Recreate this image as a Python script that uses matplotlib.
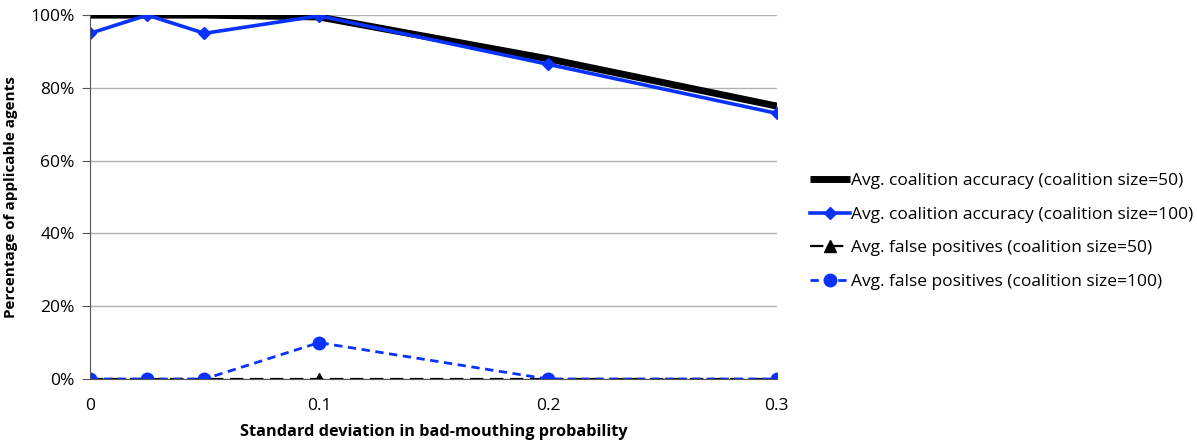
import numpy as np
import matplotlib.pyplot as plt
from matplotlib.ticker import FuncFormatter

plt.rcParams['font.family'] = ['Open Sans', 'DejaVu Sans']

std_dev = [0, 0.025, 0.05, 0.1, 0.2, 0.3]
acc_50 = [100, 100, 100, 99.5, 88, 75]
acc_100 = [95, 100, 95, 99.8, 86.5, 73]
fp_50 = [0, 0, 0, 0, 0, 0]
fp_100 = [0, 0, 0, 10, 0, 0]

fig = plt.figure(figsize=(11.97, 4.45), dpi=100)
ax = fig.add_axes([0.0752, 0.1483, 0.5738, 0.8177])

ax.plot(std_dev, acc_50, color='black', lw=5, solid_capstyle='butt',
        label='Avg. coalition accuracy (coalition size=50)')
ax.plot(std_dev, acc_100, color='#0a32ff', lw=2.6, marker='D', ms=6,
        label='Avg. coalition accuracy (coalition size=100)')
ax.plot(std_dev, fp_50, color='black', lw=1.6, ls=(0, (6, 3)), marker='^', ms=8,
        label='Avg. false positives (coalition size=50)')
ax.plot(std_dev, fp_100, color='#0a32ff', lw=2, ls=(0, (3, 2)), marker='o', ms=9,
        label='Avg. false positives (coalition size=100)')

ax.set_xlim(0, 0.3)
ax.set_ylim(0, 100)
ax.set_xticks([0, 0.1, 0.2, 0.3])
ax.set_xticklabels(['0', '0.1', '0.2', '0.3'])
ax.set_yticks(np.arange(0, 101, 20))
ax.yaxis.set_major_formatter(FuncFormatter(lambda v, p: '%d%%' % v))
ax.yaxis.grid(True, color='#b0b0b0', lw=1)
ax.set_axisbelow(True)
for s in ['top', 'right']:
    ax.spines[s].set_visible(False)
ax.spines['left'].set_color('#555555')
ax.spines['bottom'].set_color('#555555')
ax.tick_params(axis='x', length=0, labelsize=12.5, pad=14)
ax.tick_params(axis='y', length=6, direction='out', color='#555555',
               labelsize=12.5, pad=5)

ax.set_xlabel('Standard deviation in bad-mouthing probability', fontsize=11.7,
              fontweight='bold', labelpad=7)
ax.set_ylabel('Percentage of applicable agents', fontsize=11,
              fontweight='bold', labelpad=9)

fig.legend(loc='center left', bbox_to_anchor=(0.664, 0.48), frameon=False,
           fontsize=12.5, handlelength=2.3, handletextpad=0.05, labelspacing=1.0)

fig.savefig('out.png', dpi=100)
